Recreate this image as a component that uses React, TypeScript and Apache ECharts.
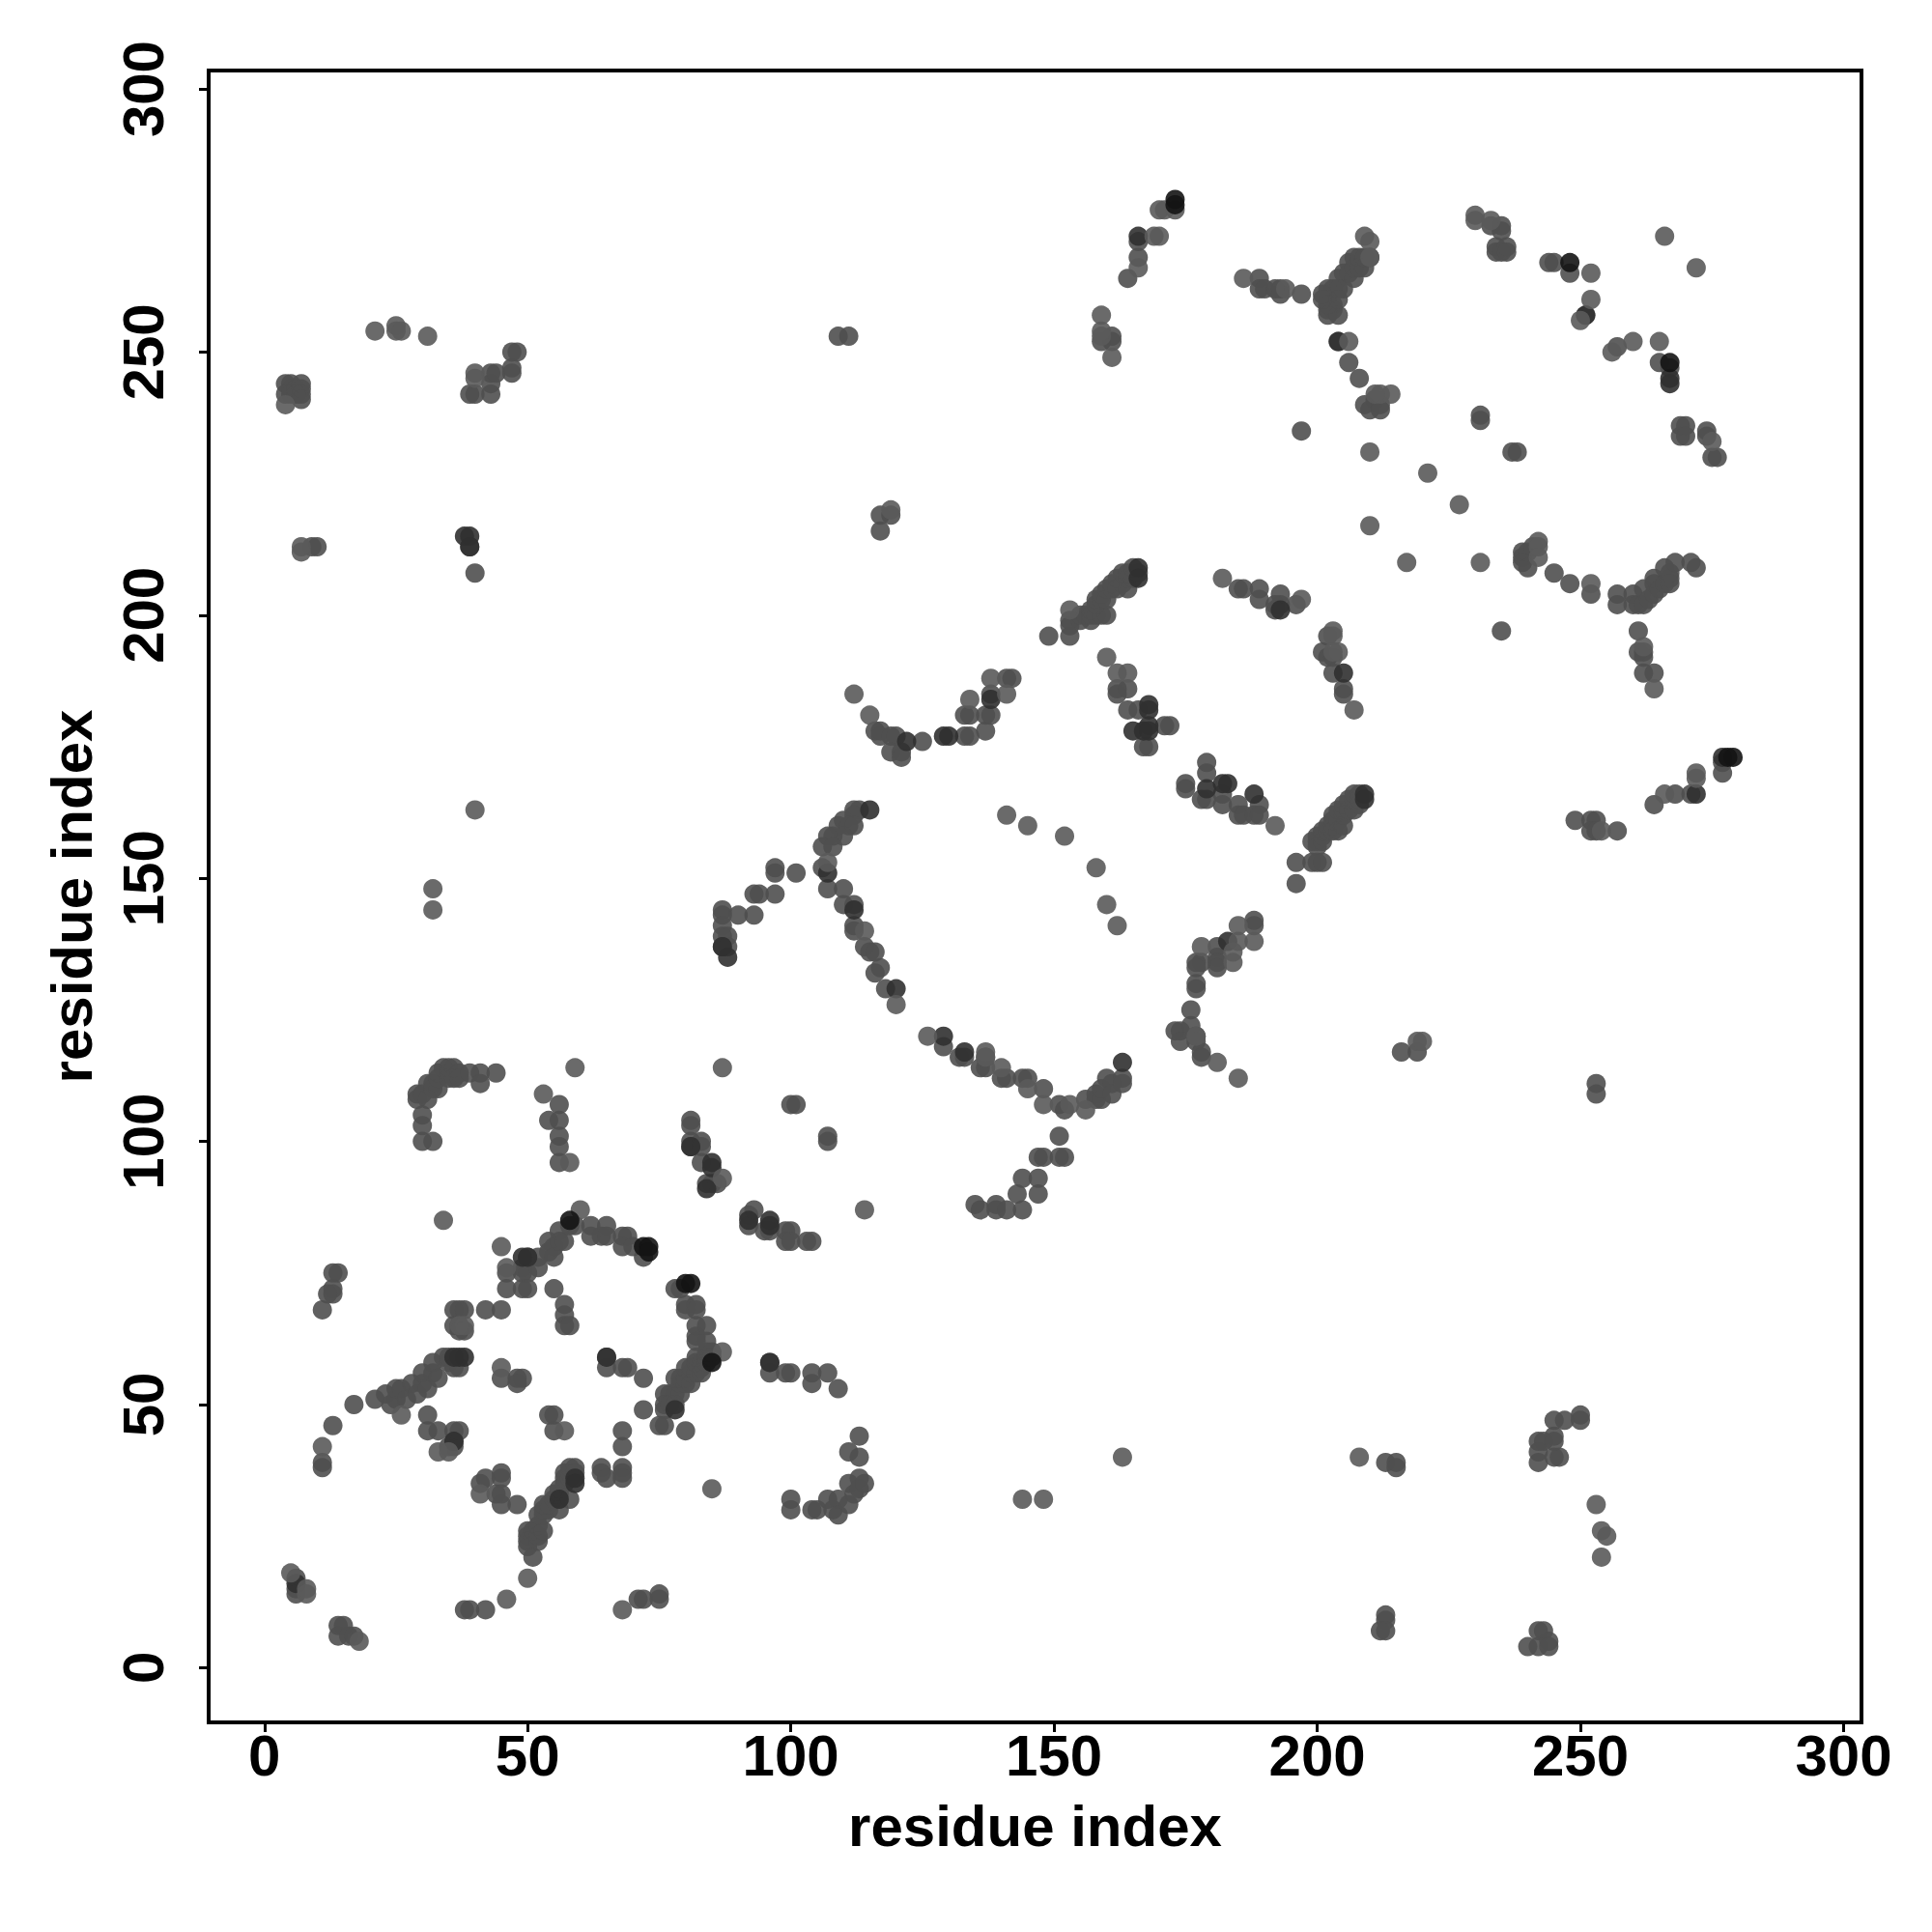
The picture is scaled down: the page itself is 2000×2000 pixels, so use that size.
import React, { useEffect, useRef } from "react";
import * as echarts from "echarts";

const tickValues = [0, 50, 100, 150, 200, 250, 300];
const axisTitle = "residue index";

type P = [number, number];

const basePoints: P[] = [
  // lower-left block
  [6,17],[6,15],[6,14],[14,8],[15,8],[14,6],[16,6],[17,6],[11,39],[11,38],[13,46],[17,50],[21,51],[23,52],[24,50],[25,51],[25,53],[26,53],[27,51],[28,54],[29,52],[30,54],[30,56],[31,53],[32,56],[32,58],[33,55],[34,59],[35,58],[35,59],[36,57],[37,57],
  [31,48],[31,45],[33,45],[35,42],[36,43],[36,42],[36,45],[37,45],[41,35],[42,36],[44,33],[45,37],[45,36],[45,33],[45,31],[48,31],[50,26],[50,25],[50,23],[51,25],[51,26],[52,25],[50,24],[51,21],[52,24],[52,27],[53,26],[52,29],[53,29],[53,30],[53,31],[54,30],[54,31],[55,32],[55,33],[56,30],[56,33],[56,34],[57,35],[58,32],[57,36],[57,37],[58,36],[58,37],[58,38],[59,37],[59,38],[64,38],[64,37],[65,36],[68,38],[68,37],[68,36],[42,11],[38,11],[39,11],
  [13,75],[14,75],[13,72],[13,71],[12,71],[11,68],[36,68],[37,68],[38,68],[42,68],[45,68],[36,65],[37,65],[37,64],[38,64],[45,55],[48,55],[49,55],[48,54],[46,75],[46,72],[49,76],[49,75],[49,72],[50,75],[50,72],[50,78],[52,78],[52,76],[54,79],[54,81],[55,80],[55,78],[56,81],[56,83],[57,81],[58,84],[59,84],[62,84],[62,82],[64,82],[65,84],[65,82],[68,82],[69,82],[68,80],[70,80],[72,78],
  [55,72],[57,69],[57,67],[57,65],[58,65],[65,59],[65,57],[68,57],[69,57],[72,55],[54,48],[55,48],[55,45],[68,45],[68,42],[72,49],[76,49],[80,45],[75,46],[76,46],[71,13],[72,13],[75,14],[75,13],
  [76,52],[77,52],[78,52],[79,52],[76,50],[77,50],[78,50],[78,55],[79,54],[79,55],[80,54],[80,55],[80,57],[81,56],[81,57],[81,54],[82,56],[82,58],[82,59],[83,58],[83,57],[83,56],[84,58],[84,59],[84,60],[85,60],[85,59],[84,62],[82,63],[82,62],[82,65],[84,65],[80,69],[80,68],[82,69],[82,68],[78,72],[79,72],
  [96,58],[96,56],[99,56],[100,56],[104,56],[104,54],[107,56],[109,53],[113,44],[111,41],[113,40],[100,32],[100,30],[104,30],[105,30],[107,32],[108,30],[109,32],[109,29],[111,31],[111,35],[112,33],[113,36],[113,34],[114,35],
  // second block
  [29,109],[29,108],[30,109],[31,111],[32,111],[32,110],[33,110],[31,108],[30,105],[30,103],[30,100],[32,100],[33,112],[33,113],[34,114],[35,114],[35,113],[35,112],[36,112],[36,114],[37,113],[37,112],[39,113],[41,113],[41,111],[44,113],
  [56,107],[54,104],[56,104],[56,101],[56,99],[56,96],[81,104],[81,103],[81,100],[81,99],[83,100],[83,99],[83,96],[84,92],[85,92],[86,92],[92,86],[92,84],[93,87],[95,83],[96,83],[99,83],[100,83],[99,81],[100,81],[103,81],[104,81],[100,107],[101,107],[107,101],[107,100],
  [135,88],[136,87],[139,88],[139,87],[141,87],[143,90],[144,93],[147,93],[147,90],[147,97],[148,97],[151,97],[152,97],[144,87],[151,101],
  // centre block
  [87,144],[87,143],[87,141],[87,139],[88,139],[87,137],[88,137],[90,143],[93,143],[93,147],[94,147],[97,152],[97,151],[97,147],
  [116,178],[117,178],[117,177],[119,177],[120,177],[119,174],[121,174],[121,173],[125,176],[133,177],[134,177],[133,181],[134,181],[137,181],[137,178],[138,185],[138,181],[141,188],[142,188],
  [162,186],[162,185],[164,186],[164,182],[166,182],[171,179],[172,179],[167,175],[168,175],
  [112,163],[113,163],[112,162],[110,161],[109,160],[111,160],[112,160],[108,158],[110,158],[107,158],[106,156],[108,156],[106,152],[101,151],[107,148],[110,148],[110,145],[112,145],[112,141],[112,140],[114,137],[115,136],[116,136],[117,133],[116,132],[118,129],
  [129,118],[132,116],[133,116],[136,114],[137,114],[137,116],[140,112],[141,112],[144,112],[145,112],[148,110],[151,107],[152,106],[156,108],[158,108],[158,109],[159,108],[159,110],[160,112],[161,111],[161,109],[163,112],[163,111],
  [175,168],[175,167],[179,172],[179,170],[178,165],[179,165],[182,166],[182,164],[185,164],[185,162],[186,162],[188,162],[189,164],[189,162],
  [188,142],[188,141],[181,137],[181,135],[181,134],[181,133],[177,134],[178,134],[177,133],[177,130],[177,129],[176,125],[176,122],[173,121],[174,121],[174,119],[177,120],[177,119],[178,117],[178,116],
  [149,196],[153,196],[153,199],[153,198],[155,199],[155,200],[156,200],[157,199],[157,200],[158,200],[159,200],[160,200],[157,201],[158,202],[158,203],[159,203],[159,204],[160,203],[160,205],[161,205],[161,206],[162,205],[162,207],[163,206],[163,208],[164,205],[164,207],[164,208],[165,207],[165,209],[166,208],
  [199,157],[199,153],[200,158],[200,157],[200,156],[200,153],[201,159],[201,158],[201,157],[201,153],[202,159],[202,160],[203,159],[203,160],[203,161],[203,162],[204,161],[204,159],[204,163],[205,160],[205,163],[205,164],[205,162],[206,163],[206,165],[207,163],[207,165],[207,166],[208,164],[208,165],[208,166],[196,153],[196,149],
  // upper right
  [233,274],[234,270],[234,269],[235,274],[235,273],[235,269],[236,270],[236,269],[244,267],[245,267],[248,265],[251,257],[257,251],[267,247],[265,248],[269,236],[269,234],[270,236],[270,234],[274,235],[274,234],[276,230],[275,230],[231,238],[231,237],[237,231],[238,231],
  [239,212],[239,211],[239,210],[240,212],[240,209],[241,213],[245,208],[248,206],[252,204],[257,204],[257,202],[260,204],[260,202],[261,202],[262,202],[262,205],[263,203],[264,206],[264,204],[264,207],[265,205],[266,206],[266,209],[267,207],[267,208],[267,206],[268,210],[271,210],[272,209],
  [204,264],[205,265],[205,262],[206,267],[206,265],[207,268],[207,264],[207,266],[208,268],[208,266],[209,266],[209,268],[210,268],[202,262],[203,262],[204,262],[202,260],[203,259],[203,258],[202,258],[202,259],[201,261],[201,260],[204,260],[202,257],[204,257],[204,252],[206,248],[208,245],[209,240],[210,239],[211,241],[212,240],[212,239],
  [166,271],[166,268],[164,264],[159,252],[161,253],[161,252],[109,253],[111,253],[189,264],[189,262],[190,262],[193,262],[193,261],[192,262],[197,261],[197,235],[119,219],[117,216],[185,205],[186,205],[189,205],[189,203],[193,204],[193,202],[192,202],[192,201],[196,202],
  [202,196],[201,193],[202,192],[203,192],[203,189],[205,186],[205,185],[235,197],[261,197],[261,193],[262,193],[262,192],[262,189],[264,189],[277,172],[277,170],[271,166],[268,166],[264,164],[252,161],[253,161],[252,159],[253,159],[216,117],[219,117],[253,111],[253,109],[257,159],[249,161],[213,39],[215,39],[215,38],[213,10],[213,9],[212,7],[213,7],
  [240,4],[242,7],[243,7],[242,4],[244,5],[244,4],[242,43],[243,43],[242,41],[242,39],[245,40],[246,40],[245,44],[245,43],[245,47],[247,47],[250,48],[250,47],
  // top left
  [4,244],[5,244],[5,243],[4,242],[5,242],[6,243],[7,244],[7,243],[7,242],[7,241],[6,242],[39,242],[40,242],[43,242],[43,244],[43,246],[44,246],[47,246],[47,247],[47,250],[48,250],[9,213],[10,213],[39,213],[40,208],[117,219],
];

const lightPoints: P[] = [
  [5,18],[8,15],[8,14],[18,5],[11,42],[26,48],[33,41],[35,41],[41,33],[50,17],[46,13],[34,85],[45,80],[46,76],[38,65],[37,65],[45,57],[57,45],[60,87],[53,109],[59,114],[87,114],[114,87],[85,34],[144,32],[148,32],[163,40],[208,40],[254,26],[255,25],[254,21],[253,31],
  [87,60],[87,93],[68,11],[32,148],[32,144],[40,163],[21,254],[25,255],[25,254],[26,254],[31,253],[4,240],[7,212],[7,213],[40,246],[40,245],[112,185],[115,181],[134,184],[138,188],[141,185],
  [141,162],[145,160],[152,158],[158,152],[160,145],[162,141],[160,192],[162,189],[164,189],[120,126],[126,120],[114,140],[107,153],[140,114],[145,110],[148,107],[153,107],[156,106],[137,117],[137,116],[177,120],[181,115],[185,112],[192,160],[185,141],[185,138],[188,138],[178,137],[184,134],[184,136],
  [166,266],[169,272],[170,272],[170,277],[171,277],[173,277],[159,257],[159,254],[159,253],[161,249],[186,264],[194,262],[197,203],[182,207],[119,220],[153,201],
  [230,276],[230,275],[233,275],[252,265],[252,260],[250,256],[260,252],[256,250],[265,252],[206,252],[210,231],[221,227],[227,221],[210,217],[217,210],[231,210],[242,214],[242,213],[242,211],[252,206],[275,233],[209,272],[210,271],[210,268],[214,242],[212,242],[211,242],
  [203,197],[203,196],[204,193],[203,193],[207,182],[262,194],[264,186],[272,170],[272,169],[266,166],[254,159],[219,119],[220,119],[266,272],[272,266],[58,96],
];

const darkPoints: P[] = [
  [6,16],[36,43],[59,36],[56,32],[78,49],[81,99],[85,96],[85,95],[84,91],[92,85],[96,85],[96,84],[38,59],[37,59],[36,59],[49,78],[50,78],[38,215],[39,215],[39,213],[88,135],[122,176],[129,177],[130,177],[115,163],[112,144],[107,151],[120,129],[163,115],[129,120],[133,117],
  [165,178],[167,178],[168,179],[168,183],[168,182],[179,167],[183,168],[182,168],[183,138],[209,166],[209,165],[267,245],[267,244],[272,166],[166,272],[251,257],[204,252],[65,59],[96,58],[87,137],[168,178],[193,201],[188,166],[205,189],[277,173],[166,209],[166,207],[138,184],[59,35],
];

const blackPoints: P[] = [
  [173,279],[173,278],[248,267],[267,248],[278,173],[279,173],[72,80],[73,80],[73,79],[80,73],[81,73],[85,58],[58,85],
];

const pointSeries = (data: P[], color: string) => ({
  type: "scatter",
  data,
  symbol: "circle",
  symbolSize: 20,
  itemStyle: { color, opacity: 0.9 },
  silent: true,
});

const fontFamily = "Liberation Sans";
const textStyle = { fontFamily, fontWeight: "bold" as const, fontSize: 60, color: "#000" };

export default function App() {
  const ref = useRef<HTMLDivElement>(null);
  useEffect(() => {
    document.body.style.margin = "0";
    const chart = echarts.init(ref.current!, undefined, { renderer: "svg" });
    chart.setOption({
      animation: false,
      backgroundColor: "#fff",
      grid: {
        left: 216,
        top: 73,
        width: 1711,
        height: 1710,
        show: true,
        borderColor: "#000",
        borderWidth: 4,
        backgroundColor: "transparent",
        outerBoundsMode: "none",
        z: 10,
      },
      xAxis: {
        type: "value",
        min: -10.6,
        max: 303.4,
        name: axisTitle,
        nameLocation: "middle",
        nameGap: 77,
        nameTextStyle: textStyle,
        axisLine: { show: false, onZero: false },
        axisTick: { show: true, customValues: tickValues, length: 10, lineStyle: { color: "#000", width: 3 } },
        axisLabel: { show: true, customValues: tickValues, margin: 4, ...textStyle, hideOverlap: false },
        splitLine: { show: false },
      },
      yAxis: {
        type: "value",
        min: -10.4,
        max: 303.5,
        name: axisTitle,
        nameLocation: "middle",
        nameGap: 112,
        nameRotate: 90,
        nameTextStyle: textStyle,
        axisLine: { show: false, onZero: false },
        axisTick: { show: true, customValues: tickValues, length: 10, lineStyle: { color: "#000", width: 3 } },
        axisLabel: { show: true, customValues: tickValues, rotate: 90, margin: 68, align: "center", verticalAlign: "middle", ...textStyle, hideOverlap: false },
        splitLine: { show: false },
      },
      series: [
        pointSeries(basePoints, "#4f4f4f"),
        pointSeries(darkPoints, "#303030"),
        pointSeries(lightPoints, "#5a5a5a"),
        pointSeries(blackPoints, "#141414"),
      ],
    });
    return () => chart.dispose();
  }, []);
  return <div ref={ref} style={{ width: 2000, height: 2000, background: "#fff" }} />;
}
